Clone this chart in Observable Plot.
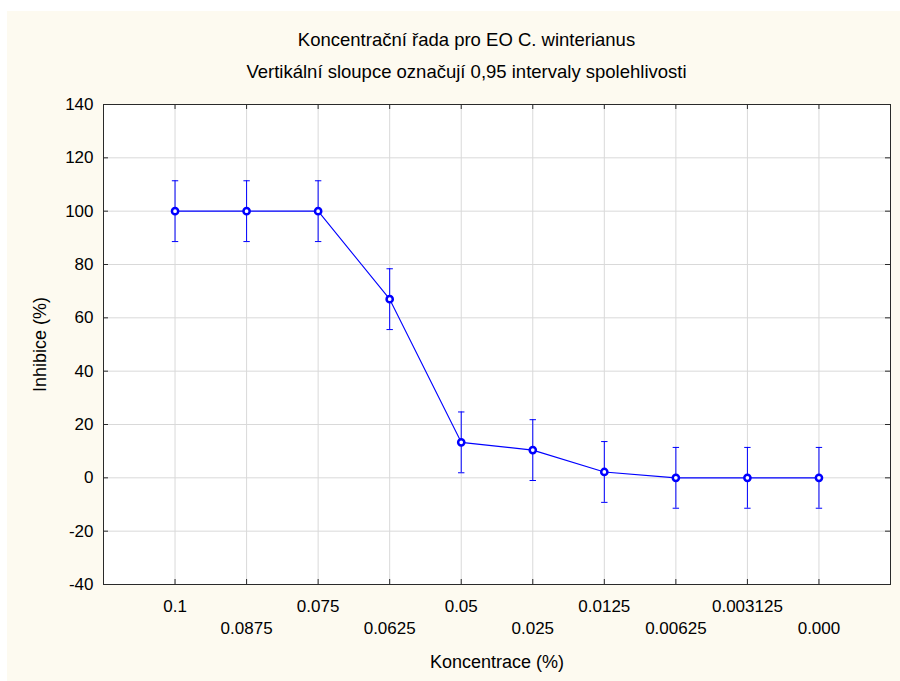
<!DOCTYPE html>
<html>
<head>
<meta charset="utf-8">
<script src="https://cdn.jsdelivr.net/npm/d3@7"></script>
<script src="https://cdn.jsdelivr.net/npm/@observablehq/plot@0.6"></script>
<style>
  html, body { margin: 0; padding: 0; background: #ffffff; }
  #page { position: relative; width: 900px; height: 681px; overflow: hidden; }
  #panel { position: absolute; left: 7px; top: 11px; width: 893px; height: 670px; background: #fdfaf0; }
  .title { position: absolute; left: 0; width: 933px; text-align: center;
           font-family: "Liberation Sans", Arial, sans-serif; font-size: 18.5px; line-height: 18.5px; color: #000; }
  #chart { position: absolute; left: 0; top: 0; }
</style>
</head>
<body>
<div id="page">
  <div id="panel"></div>
  <div class="title" style="top:30.5px">Koncentrační řada pro EO C. winterianus</div>
  <div class="title" style="top:62.6px">Vertikální sloupce označují 0,95 intervaly spolehlivosti</div>
  <div id="chart"></div>
</div>
<script>
// Concentration series (%), mean inhibition (%) and 0.95 confidence limits
const concentrations = ["0.1", "0.0875", "0.075", "0.0625", "0.05", "0.025", "0.0125", "0.00625", "0.003125", "0.000"];
const inhibition = [100, 100, 100, 67.0, 13.3, 10.4, 2.2, 0, 0, 0];
const lowerCI = [88.6, 88.6, 88.6, 55.6, 1.9, -1.0, -9.2, -11.4, -11.4, -11.4];
const upperCI = [111.4, 111.4, 111.4, 78.4, 24.7, 21.8, 13.6, 11.4, 11.4, 11.4];
const yTicks = [-40, -20, 0, 20, 40, 60, 80, 100, 120, 140];

const rows = concentrations.map((c, i) => ({c, mean: inhibition[i], lo: lowerCI[i], hi: upperCI[i]}));
const upperRow = concentrations.filter((_, i) => i % 2 === 0);
const lowerRow = concentrations.filter((_, i) => i % 2 === 1);

const W = 900, H = 681, ML = 103, MR = 10, MT = 104, MB = 97;
const frameW = W - ML - MR, frameH = H - MT - MB;
const blue = "#0000ff", ink = "#2a2a2a", grid = "#d9d9d9";

// short horizontal bar used as an error-bar cap
const cap = {draw(context, size) { const r = Math.sqrt(size / Math.PI); context.moveTo(-r, 0); context.lineTo(r, 0); }};
// plain hyphen for negative tick values
const fmt = d => (d < 0 ? "-" + Math.abs(d) : String(d));

const chart = Plot.plot({
  width: W, height: H,
  marginLeft: ML, marginRight: MR, marginTop: MT, marginBottom: MB,
  style: {background: "none", fontFamily: "Liberation Sans, Arial, sans-serif", fontSize: "17px", color: "#000", overflow: "visible"},
  x: {type: "point", domain: concentrations, padding: 1, round: false},
  y: {domain: [-40, 140]},
  marks: [
    Plot.frame({fill: "#ffffff", stroke: null}),
    Plot.gridY(yTicks, {stroke: grid, strokeOpacity: 1}),
    Plot.gridX(concentrations, {stroke: grid, strokeOpacity: 1}),
    // inward tick marks on all four sides
    Plot.tickY(yTicks, {y: d => d, stroke: ink, insetRight: frameW - 5}),
    Plot.tickY(yTicks, {y: d => d, stroke: ink, insetLeft: frameW - 5}),
    Plot.tickX(concentrations, {x: d => d, stroke: ink, insetTop: frameH - 5}),
    Plot.tickX(concentrations, {x: d => d, stroke: ink, insetBottom: frameH - 5}),
    Plot.frame({stroke: ink, strokeWidth: 1}),
    Plot.axisY(yTicks, {anchor: "left", tickSize: 0, tickPadding: 10, fontSize: 17, tickFormat: fmt, label: null}),
    Plot.axisY(yTicks, {anchor: "left", tickSize: 0, text: null, fontSize: 18,
      label: "Inhibice (%)", labelAnchor: "center", labelArrow: "none", labelOffset: 70}),
    Plot.axisX(upperRow, {anchor: "bottom", tickSize: 0, tickPadding: 15, fontSize: 17, label: null}),
    Plot.axisX(lowerRow, {anchor: "bottom", tickSize: 0, tickPadding: 37, fontSize: 17, label: null}),
    Plot.axisX([], {anchor: "bottom", tickSize: 0, fontSize: 18,
      label: "Koncentrace (%)", labelAnchor: "center", labelArrow: "none", labelOffset: 83.5}),
    // confidence intervals
    Plot.ruleX(rows, {x: "c", y1: "lo", y2: "hi", stroke: blue, strokeWidth: 1}),
    Plot.dot(rows, {x: "c", y: "lo", symbol: cap, r: 3.2, stroke: blue, strokeWidth: 1}),
    Plot.dot(rows, {x: "c", y: "hi", symbol: cap, r: 3.2, stroke: blue, strokeWidth: 1}),
    // mean inhibition
    Plot.line(rows, {x: "c", y: "mean", stroke: blue, strokeWidth: 1.1}),
    Plot.dot(rows, {x: "c", y: "mean", r: 3.1, stroke: blue, strokeWidth: 2.5, fill: "#ffffff"})
  ]
});
document.getElementById("chart").appendChild(chart);
</script>
</body>
</html>
